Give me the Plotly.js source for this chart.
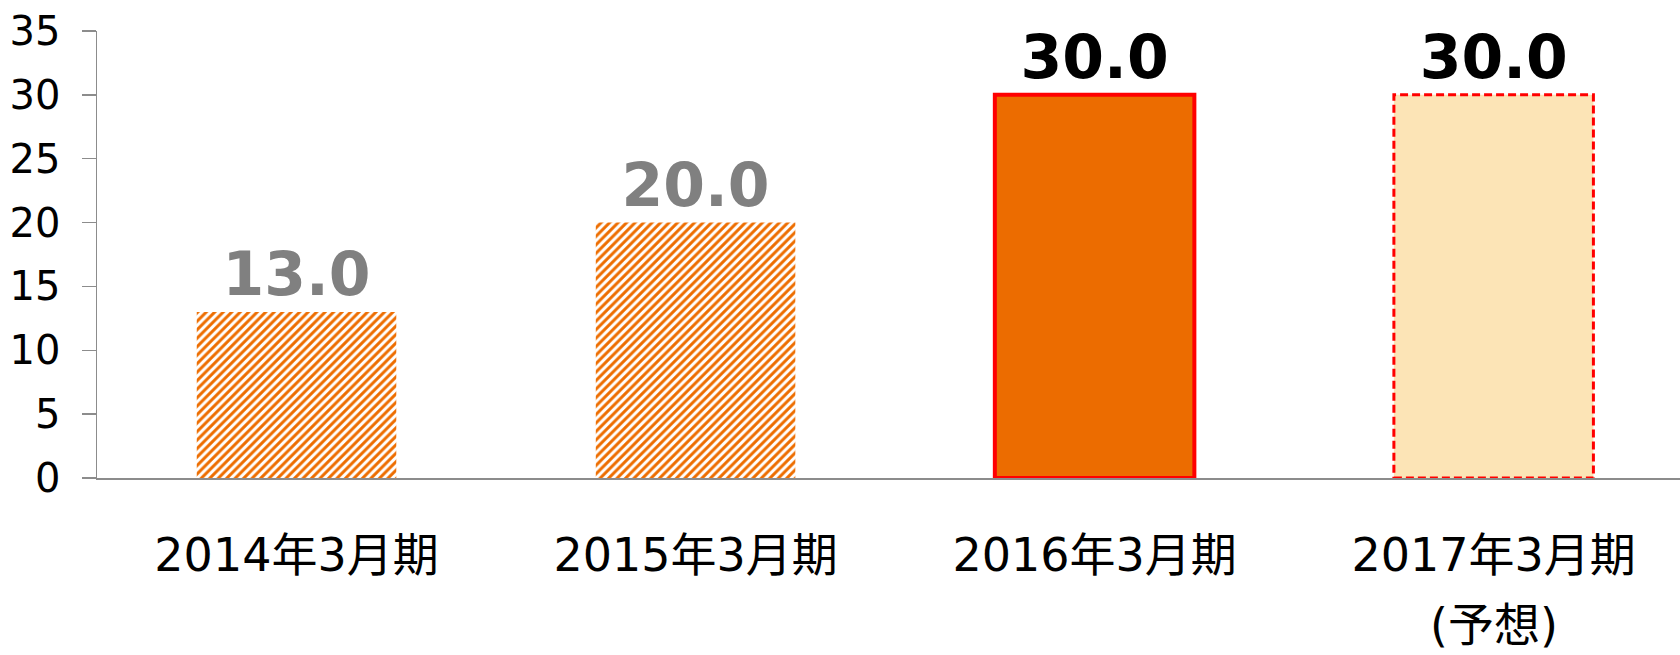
<!DOCTYPE html>
<html>
<head>
<meta charset="utf-8">
<script src="https://cdn.plot.ly/plotly-3.0.1.min.js"></script>
<style>
  html, body { margin: 0; padding: 0; background: #fff; overflow: hidden; }
  #chart { width: 1680px; height: 655px; }
</style>
</head>
<body>
<div id="chart"></div>
<script>
// ---- data ----
const categories = ["2014年3月期", "2015年3月期", "2016年3月期", "2017年3月期"];
const values = [13.0, 20.0, 30.0, 30.0];
const forecastNote = "(予想)";
const yTickVals = [0, 5, 10, 15, 20, 25, 30, 35];
const yTickText = ["0", "5", "10", "15", "20", "25", "30", "35"];

// ---- styles ----
const barWidth = 0.5;
const fillColors = ["#ED6D00", "#ED6D00", "#EC6C00", "#FCE4B6"];
const patternShapes = ["/", "/", "", ""];
const lineWidths = [0, 0, 4, 0];
const labelColors = ["#808080", "#808080", "#000000", "#000000"];
const fontFamily = "DejaVu Sans, Verdana, 'Noto Sans CJK JP', sans-serif";

const trace = {
  type: "bar",
  x: categories,
  y: values,
  width: barWidth,
  marker: {
    color: fillColors,
    line: { color: "#FF0000", width: lineWidths },
    pattern: { shape: patternShapes, bgcolor: "#FFFFFF", size: 6, solidity: 0.5 }
  },
  texttemplate: "%{y:.1f}",
  textposition: "outside",
  cliponaxis: false,
  textfont: { family: fontFamily, size: 60, weight: "bold", color: labelColors },
  hoverinfo: "skip"
};

// dashed outline for the forecast bar (derived from the data)
const fIdx = 3;
const shapes = [{
  type: "rect", xref: "x", yref: "y",
  x0: fIdx - barWidth / 2, x1: fIdx + barWidth / 2,
  y0: 0, y1: values[fIdx],
  line: { color: "#FF0000", width: 3, dash: "8px,4px" },
  fillcolor: "rgba(0,0,0,0)"
}];

const layout = {
  width: 1680, height: 655,
  margin: { l: 97, r: 0, t: 31, b: 177 },
  paper_bgcolor: "#FFFFFF", plot_bgcolor: "#FFFFFF",
  showlegend: false,
  xaxis: {
    type: "category",
    range: [-0.5, 3.467],
    showline: true, linecolor: "#8C8C8C", linewidth: 1.5,
    ticks: "", showgrid: false, zeroline: false,
    tickfont: { family: fontFamily, size: 46, color: "#000000" },
    ticklabelstandoff: 36,
    fixedrange: true
  },
  yaxis: {
    range: [0, 35],
    tickvals: yTickVals, ticktext: yTickText,
    showline: true, linecolor: "#8C8C8C", linewidth: 1.5,
    ticks: "outside", ticklen: 14, tickcolor: "#8C8C8C", tickwidth: 1.5,
    showgrid: false, zeroline: false,
    tickfont: { family: fontFamily, size: 40, color: "#000000" },
    ticklabelstandoff: 13,
    fixedrange: true
  },
  shapes: shapes,
  annotations: [{
    x: categories[fIdx], xref: "x",
    y: -0.392, yref: "paper",
    text: forecastNote, showarrow: false,
    xanchor: "center", yanchor: "bottom",
    borderpad: 0,
    font: { family: fontFamily, size: 46, color: "#000000" }
  }]
};

Plotly.newPlot("chart", [trace], layout, { displayModeBar: false, staticPlot: true });
</script>
</body>
</html>
